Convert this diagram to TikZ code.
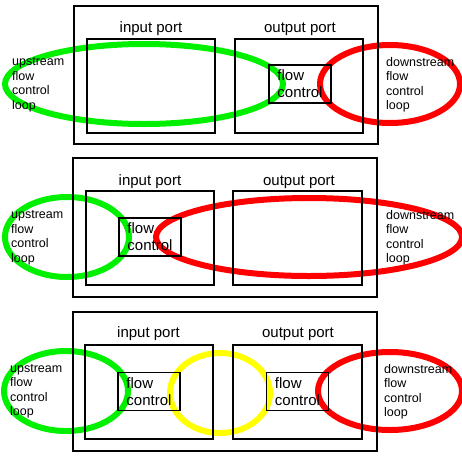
\documentclass[tikz,border=0pt]{standalone}
\usepackage{fontspec}
\setmainfont{Liberation Sans}
\usepackage{tikz}
\definecolor{loopgreen}{RGB}{0,240,0}
\definecolor{loopred}{RGB}{255,0,0}
\definecolor{loopyellow}{RGB}{255,255,0}
\tikzset{
  frame/.style={line width=1.3pt},
  loopring/.style={line width=6pt},
  portlabel/.style={font=\fontsize{15}{17}\selectfont, inner sep=0pt},
  sidelabel/.style={font=\fontsize{12.5}{14.5}\selectfont, align=left, anchor=west, inner sep=0pt},
  flowbox/.style={draw, line width=1.3pt, minimum width=62pt, minimum height=38pt, inner sep=0pt,
                  align=left, font=\fontsize{15}{17}\selectfont}
}
\begin{document}
\begin{tikzpicture}[x=1pt, y=-1pt]
		\useasboundingbox (0, 0) rectangle (462, 455);
		%%%%% TOP %%%%%
		
		\draw[loopring, color=loopgreen] (144, 84) ellipse [x radius=139pt, y radius=40pt];
		\draw[loopring, color=loopred] (390, 84) ellipse [x radius=70pt, y radius=39pt];
		
		\draw[frame] (74, 6) rectangle (378, 144);
		\draw[frame] (87, 39) rectangle (215, 133);
		\draw[frame] (235, 39) rectangle (363, 133);
		\node[portlabel] (inA) at (151, 29) {input port};
		\node[portlabel] (outA) at (300, 29) {output port};
		\node[flowbox] (flowA) at (300, 84) {flow\\control};
		
		\node[sidelabel] (upA) at (12, 85) {upstream\\flow\\control\\loop};
		\node[sidelabel] (downA) at (386, 85) {downstream\\flow\\control\\loop};
		
		%%%%% MIDDLE %%%%%
		
		\draw[loopring, color=loopgreen] (67, 237) ellipse [x radius=62pt, y radius=40pt];
		\draw[loopring, color=loopred] (309, 237) ellipse [x radius=153pt, y radius=39pt];
		
		\draw[frame] (73, 158) rectangle (377, 297);
		\draw[frame] (86, 191) rectangle (214, 285);
		\draw[frame] (233, 191) rectangle (362, 285);
		\node[portlabel] (inB) at (150, 182) {input port};
		\node[portlabel] (outB) at (299, 182) {output port};
		\node[flowbox] (flowB) at (150, 237) {flow\\control};
		
		\node[sidelabel] (upB) at (11, 238) {upstream\\flow\\control\\loop};
		\node[sidelabel] (downB) at (386, 238) {downstream\\flow\\control\\loop};
		
		%%%%% BOTTOM %%%%%
		
		\draw[loopring, color=loopgreen] (66, 391) ellipse [x radius=62pt, y radius=40pt];
		\draw[loopring, color=loopyellow] (220, 393) ellipse [x radius=50pt, y radius=40pt];
		\draw[loopring, color=loopred] (390, 391) ellipse [x radius=72pt, y radius=39pt];
		
		\draw[frame] (73, 312) rectangle (377, 451);
		\draw[frame] (85, 345) rectangle (213, 439);
		\draw[frame] (233, 345) rectangle (362, 439);
		\node[portlabel] (inC) at (148.5, 334) {input port};
		\node[portlabel] (outC) at (298, 334) {output port};
		\node[flowbox] (flowC) at (149, 391.5) {flow\\control};
		\node[flowbox] (flowD) at (297.5, 391.5) {flow\\control};
		
		\node[sidelabel] (upC) at (10, 391) {upstream\\flow\\control\\loop};
		\node[sidelabel] (downC) at (384, 392) {downstream\\flow\\control\\loop};
		
		%%%%% END %%%%%
\end{tikzpicture}
\end{document}
